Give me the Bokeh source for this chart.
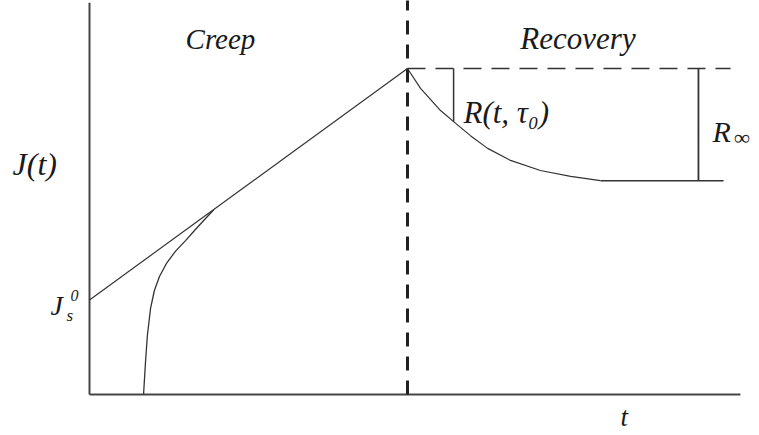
from bokeh.plotting import figure
from bokeh.models import Range1d
from bokeh.core.properties import value
from bokeh.embed import file_html
from bokeh.resources import INLINE

# --- schematic data (time t, compliance J), arbitrary units ---
t_load_off = 10.0          # time when the load is removed
J_s0 = 2.9                 # intercept of the steady creep line
J_peak = 10.0              # compliance at removal
J_final = 6.56             # long-time recovered level
t_end_axis = 20.47
J_top_axis = 12.02
t_end_dash = 20.16
t_end_final = 19.94
t_R_bar = 11.45            # where R(t, tau0) is marked
t_Rinf_bar = 19.15         # where R_inf is marked

# steady-state creep line
creep_line_t = [0.0, t_load_off]
creep_line_J = [J_s0, J_peak]

# transient creep curve joining the steady line
creep_t = [1.70, 1.76, 1.82, 1.92, 2.04, 2.20, 2.42, 2.70, 3.02, 3.33, 3.65, 3.90]
creep_J = [0.00, 0.98, 1.81, 2.64, 3.19, 3.62, 4.02, 4.39, 4.72, 5.06, 5.40, 5.66]

# recovery curve after unloading
rec_t = [10.00, 10.41, 11.04, 11.45, 11.98, 12.52, 13.24, 14.18, 15.13, 16.07]
rec_J = [10.00, 9.39, 8.71, 8.37, 7.94, 7.55, 7.18, 6.87, 6.69, 6.56]

p = figure(width=759, height=435, output_backend="svg", toolbar_location=None,
           x_range=Range1d(-2.799, 21.07), y_range=Range1d(-1.258, 12.086),
           min_border=0, outline_line_color=None)
p.xaxis.visible = False
p.yaxis.visible = False
p.xgrid.visible = False
p.ygrid.visible = False

ink = "#333333"
axis_col = "#454545"

# axes
p.line([0, 0], [0, J_top_axis], line_color=axis_col, line_width=2)
p.line([0, t_end_axis], [0, 0], line_color=axis_col, line_width=2)

# unloading instant
p.line([t_load_off, t_load_off], [0, 12.1], line_color="#222222", line_width=3,
       line_dash="14 10")
# reference level at peak compliance
p.line([t_load_off, t_end_dash], [J_peak, J_peak], line_color=ink, line_width=1.5,
       line_dash="18 10")

# curves
p.line(creep_line_t, creep_line_J, line_color=ink, line_width=1.2)
p.line(creep_t, creep_J, line_color=ink, line_width=1.3)
p.line(rec_t, rec_J, line_color=ink, line_width=1.2)
p.line([rec_t[-1], t_end_final], [J_final, J_final], line_color=ink, line_width=1.5)

# recovery markers
p.line([t_R_bar, t_R_bar], [J_peak, rec_J[3]], line_color=ink, line_width=1.5)
p.line([t_Rinf_bar, t_Rinf_bar], [J_peak, J_final], line_color=ink, line_width=1.8)

font = value("Liberation Serif")
txt = "#1a1a1a"

def label(x, y, s, size):
    p.text(x=[x], y=[y], text=[s], text_font=font, text_font_style="italic",
           text_font_size=f"{size}px", text_color=txt, text_align="left",
           text_baseline="alphabetic")

label(3.02, 10.92, "Creep", 29)
label(13.55, 10.92, "Recovery", 31)
label(-2.42, 7.06, "J(t)", 32)
label(-1.23, 2.73, "J", 28)
label(-0.60, 3.05, "0", 16)
label(-0.72, 2.43, "s", 17)
label(11.76, 8.65, "R(t, τ₀)", 31)
label(19.59, 8.07, "R", 30)
label(20.27, 7.88, "∞", 22)
label(16.70, -0.68, "t", 27)

open("out.html", "w").write(file_html(p, INLINE))
